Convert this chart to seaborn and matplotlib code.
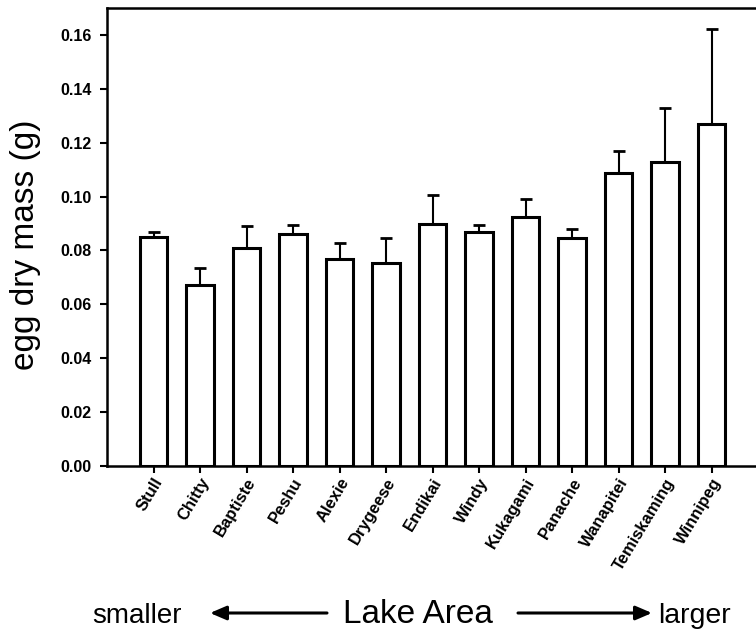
import matplotlib
matplotlib.use("Agg")
import matplotlib.pyplot as plt
import matplotlib.transforms as mtransforms
import seaborn as sns
import pandas as pd

# Mean egg dry mass per lake, ordered by lake area (smallest to largest)
lakes = ["Stull", "Chitty", "Baptiste", "Peshu", "Alexie", "Drygeese", "Endikai",
         "Windy", "Kukagami", "Panache", "Wanapitei", "Temiskaming", "Winnipeg"]
mean_mass = [0.0850, 0.0670, 0.0810, 0.0862, 0.0770, 0.0755, 0.0897,
             0.0867, 0.0923, 0.0848, 0.1089, 0.1130, 0.1270]
err_mass = [0.0020, 0.0066, 0.0081, 0.0034, 0.0056, 0.0091, 0.0109,
            0.0026, 0.0067, 0.0030, 0.0079, 0.0197, 0.0352]
y_ticks = [0.00, 0.02, 0.04, 0.06, 0.08, 0.10, 0.12, 0.14, 0.16]

df = pd.DataFrame({"lake": lakes, "mass": mean_mass, "err": err_mass})

sns.set_theme(style="ticks")
plt.rcParams["font.family"] = ["Liberation Sans", "DejaVu Sans"]

W, H = 756, 632
fig = plt.figure(figsize=(W / 100, H / 100), dpi=100)
ax = fig.add_axes([107 / W, (H - 466) / H, 651 / W, 458 / H])

sns.barplot(data=df, x="lake", y="mass", order=lakes, errorbar=None,
            color="white", edgecolor="black", linewidth=2.2, width=0.6,
            saturation=1, ax=ax)
for p in ax.patches:
    p.set_facecolor("white")

# upper standard-error bars only
ax.errorbar(range(len(lakes)), df["mass"],
            yerr=[[0] * len(lakes), df["err"]],
            fmt="none", ecolor="black", elinewidth=1.5, capsize=4.5,
            capthick=2, zorder=1)

ax.set_xlim(-1, 13)
ax.set_ylim(0, 0.17)
ax.set_yticks(y_ticks)
ax.set_yticklabels([f"{v:.2f}" for v in y_ticks], fontsize=11.5, fontweight="bold")
ax.set_xticks(range(len(lakes)))
ax.set_xticklabels(lakes, rotation=59, ha="right", va="center",
                   rotation_mode="anchor", fontsize=12, fontweight="bold")
ax.tick_params(axis="both", direction="out", length=5, width=1.5, colors="black")
ax.tick_params(axis="y", pad=6)
ax.tick_params(axis="x", pad=6)
shift = mtransforms.ScaledTranslation(6 / 100, 2 / 100, fig.dpi_scale_trans)
for tick in ax.xaxis.get_major_ticks():
    tick.label1.set_transform(tick.label1.get_transform() + shift)
ax.set_xlabel("")
ax.set_ylabel("")

for side in ["left", "top", "bottom"]:
    ax.spines[side].set_visible(True)
    ax.spines[side].set_linewidth(1.8)
    ax.spines[side].set_color("black")
ax.spines["right"].set_visible(False)

fig.text(26 / W, (H - 245) / H, "egg dry mass (g)", rotation=90,
         ha="center", va="center", fontsize=24, color="black")

# lake-area direction annotation along the bottom
base = (H - 623) / H
fig.text(92 / W, base, "smaller", ha="left", va="baseline", fontsize=20, color="black")
fig.text(343 / W, base, "Lake Area", ha="left", va="baseline", fontsize=24, color="black")
fig.text(658 / W, base, "larger", ha="left", va="baseline", fontsize=20.5, color="black")

arrow_y = (H - 613) / H
arrow_kw = dict(arrowstyle="-|>,head_length=0.7,head_width=0.3", color="black",
                lw=2.2, shrinkA=0, shrinkB=0)
fig.add_artist(matplotlib.patches.FancyArrowPatch(
    (327 / W, arrow_y), (210 / W, arrow_y), transform=fig.transFigure,
    mutation_scale=14, **arrow_kw))
fig.add_artist(matplotlib.patches.FancyArrowPatch(
    (518 / W, arrow_y), (652 / W, arrow_y), transform=fig.transFigure,
    mutation_scale=14, **arrow_kw))

fig.savefig("out.png", dpi=100)
